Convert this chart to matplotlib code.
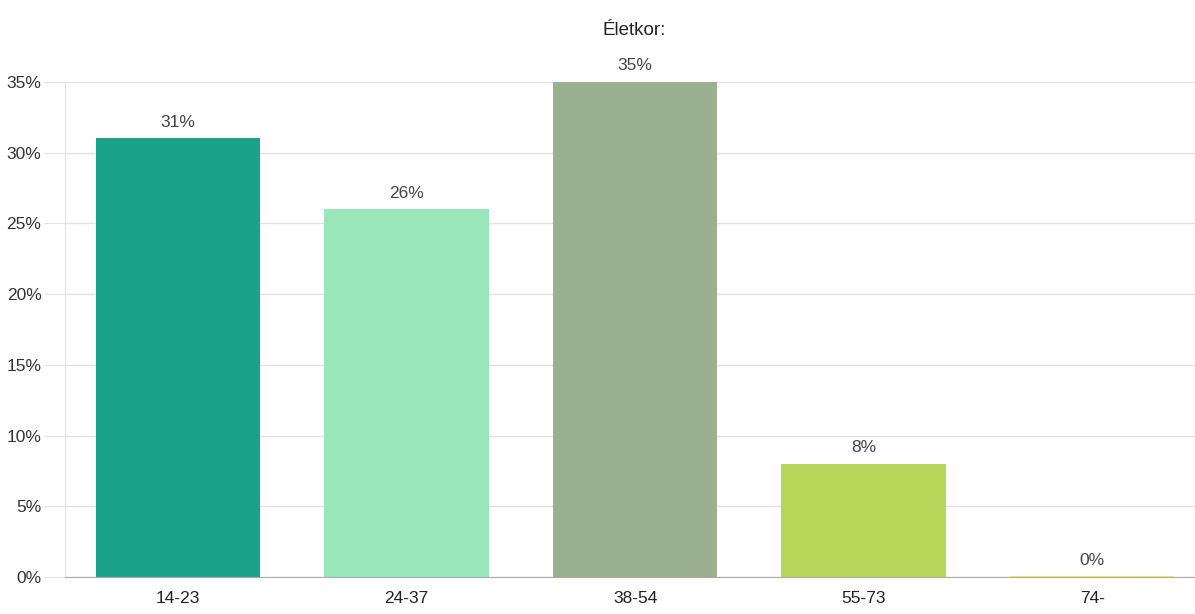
import matplotlib.pyplot as plt
from matplotlib.ticker import FuncFormatter

plt.rcParams['font.family'] = ['Liberation Sans', 'DejaVu Sans']

categories = ["14-23", "24-37", "38-54", "55-73", "74-"]
values = [31, 26, 35, 8, 0]
colors = ["#1ba28a", "#9ae6bb", "#9bb08f", "#b8d65a", "#f2f23c"]

fig = plt.figure(figsize=(11.95, 6.14), dpi=100)
ax = fig.add_axes([0.0544, 0.0603, 0.9456, 0.8063])

x = range(len(categories))
bars = ax.bar(x, values, width=0.72, color=colors, zorder=3)
for b, c, v in zip(bars, colors, values):
    if v == 0:
        b.set_edgecolor(c)
        b.set_linewidth(1.5)

for xi, v in zip(x, values):
    ax.text(xi, v + 0.6, f"{v}%", ha="center", va="bottom",
            fontsize=12.5, color="#444444", zorder=4)

ax.set_xlim(-0.495, 4.45)
ax.set_ylim(0, 35)
ax.set_yticks(range(0, 36, 5))
ax.yaxis.set_major_formatter(FuncFormatter(lambda v, p: f"{int(v)}%"))
ax.set_xticks(list(x))
ax.set_xticklabels(categories)

ax.grid(axis="y", color="#e3e3e3", linewidth=1, zorder=0)
for s in ["top", "right"]:
    ax.spines[s].set_visible(False)
ax.spines["left"].set_color("#e3e3e3")
ax.spines["bottom"].set_color("#aaaaaa")
ax.spines["bottom"].set_zorder(5)

ax.tick_params(axis="y", length=15, color="#e3e3e3", pad=2,
               labelsize=12.5, labelcolor="#333333")
ax.tick_params(axis="x", length=0, pad=10, labelsize=12.5, labelcolor="#222222")

fig.text(0.531, 0.95, "Életkor:", ha="center", va="center",
         fontsize=13.5, color="#222222")

fig.savefig("out.png", dpi=100)
